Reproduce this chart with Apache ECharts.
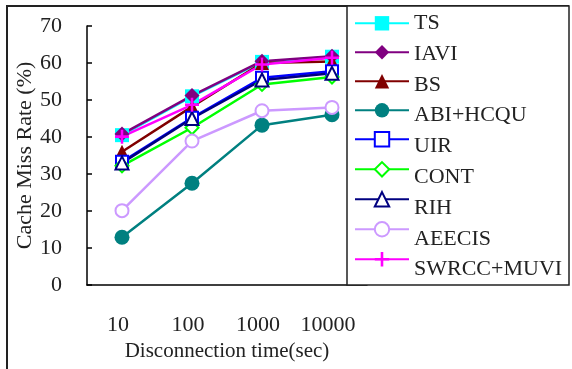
<!DOCTYPE html>
<html>
<head>
<meta charset="utf-8">
<script src="https://cdn.jsdelivr.net/npm/echarts@6/dist/echarts.min.js"></script>
<style>
  html, body { margin: 0; padding: 0; background: #fff; }
  #chart { width: 572px; height: 369px; }
</style>
</head>
<body>
<div id="chart"></div>
<script>
const categories = ['10', '100', '1000', '10000']

const ts = [40.5, 51.0, 60.3, 61.7]
const iavi = [40.8, 51.2, 60.5, 61.8]
const bs = [36.0, 48.2, 60.0, 60.4]
const abiHcqu = [12.9, 27.5, 43.2, 46.0]
const uir = [33.3, 45.2, 56.0, 57.8]
const cont = [32.2, 42.5, 54.2, 56.2]
const rih = [33.0, 45.0, 55.4, 57.2]
const aeecis = [20.1, 38.9, 47.1, 48.0]
const swrccMuvi = [40.1, 48.7, 59.6, 61.4]

const FONT = 'Liberation Serif'
const PLUS = 'path://M4.1,0h1.8v4.1h4.1v1.8h-4.1v4.1h-1.8v-4.1h-4.1v-1.8h4.1z'

function lineSeries(name, data, color, symbol, size, hollow) {
  return {
    name,
    type: 'line',
    data,
    symbol,
    symbolSize: size,
    lineStyle: { color, width: 2.5 },
    itemStyle: hollow
      ? { color, borderColor: color, borderWidth: 2.5 }
      : { color, borderWidth: 0 }
  }
}

const series = [
  lineSeries('TS', ts, '#00ffff', 'rect', 14, false),
  lineSeries('IAVI', iavi, '#800080', 'diamond', 15, false),
  lineSeries('BS', bs, '#800000', 'triangle', 14, false),
  lineSeries('ABI+HCQU', abiHcqu, '#008080', 'circle', 15, false),
  lineSeries('UIR', uir, '#0000ff', 'emptyRect', 12, true),
  lineSeries('CONT', cont, '#00ff00', 'emptyDiamond', 13, true),
  lineSeries('RIH', rih, '#000080', 'emptyTriangle', 13, true),
  lineSeries('AEECIS', aeecis, '#cc99ff', 'emptyCircle', 13, true),
  lineSeries('SWRCC+MUVI', swrccMuvi, '#ff00ff', PLUS, 14, false)
]

// legend rows: ECharts draws the icons, names are placed as text so the
// row pitch can be tighter than the font's line height
const LEGEND_TOP = 23.3
const LEGEND_ROW = 30.8
const ICON_H = 18

const legendTexts = series.map((s, i) => ({
  type: 'text',
  z: 30,
  x: 414,
  y: LEGEND_TOP + i * LEGEND_ROW,
  style: {
    text: s.name,
    fill: '#222',
    font: '22px "Liberation Serif"',
    verticalAlign: 'middle',
    align: 'left'
  }
}))

const chart = echarts.init(document.getElementById('chart'), null, { renderer: 'canvas' })

chart.setOption({
  animation: false,
  backgroundColor: '#fff',
  textStyle: { fontFamily: FONT },
  grid: { left: 87, top: 26, right: 205, bottom: 84 },
  xAxis: {
    type: 'category',
    data: categories,
    boundaryGap: true,
    name: 'Disconnection time(sec)',
    nameLocation: 'middle',
    nameGap: 56,
    nameTextStyle: { fontFamily: FONT, fontSize: 21, color: '#222' },
    axisLine: { lineStyle: { color: '#000', width: 1.5 } },
    axisTick: { inside: true, length: 5, lineStyle: { color: '#000', width: 1.5 } },
    axisLabel: { interval: 0, fontFamily: FONT, fontSize: 22, color: '#222', margin: 29, padding: [0, 8, 0, 0] },
    splitLine: { show: false }
  },
  yAxis: {
    type: 'value',
    min: 0,
    max: 70,
    interval: 10,
    name: 'Cache Miss Rate (%)',
    nameLocation: 'middle',
    nameGap: 49,
    nameTextStyle: { fontFamily: FONT, fontSize: 22, color: '#222' },
    axisLine: { show: true, lineStyle: { color: '#000', width: 1.5 } },
    axisTick: { show: true, inside: true, length: 5, lineStyle: { color: '#000', width: 1.5 } },
    axisLabel: { fontFamily: FONT, fontSize: 22, color: '#222', margin: 25 },
    splitLine: { show: false }
  },
  legend: {
    orient: 'vertical',
    left: 354,
    top: LEGEND_TOP - ICON_H / 2,
    padding: 0,
    itemGap: LEGEND_ROW - ICON_H,
    itemWidth: 54,
    itemHeight: ICON_H,
    z: 20,
    formatter: () => '',
    textStyle: { fontSize: 1 }
  },
  graphic: [
    // outer figure frame
    {
      type: 'polyline',
      z: 1,
      shape: { points: [[7, 369], [7, 6], [569, 6]] },
      style: { stroke: '#222', lineWidth: 2, fill: null }
    },
    // legend box, covers the tail of the x axis
    {
      type: 'rect',
      z: 15,
      shape: { x: 347, y: 6, width: 222, height: 279 },
      style: { fill: '#fff', stroke: '#222', lineWidth: 1.5 }
    },
    ...legendTexts
  ],
  series
})
</script>
</body>
</html>
